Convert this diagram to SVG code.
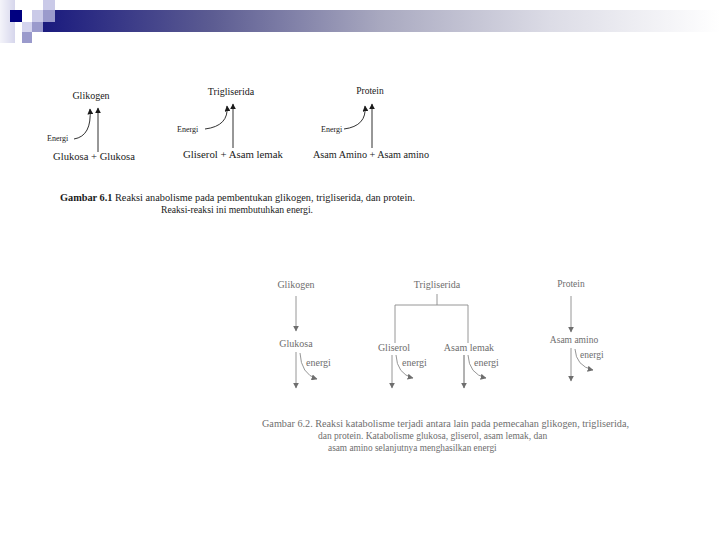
<svg xmlns="http://www.w3.org/2000/svg" width="720" height="540" viewBox="0 0 720 540">
<style>
.t1{font-family:"Liberation Serif","Times New Roman",serif;fill:#1a1a1a}
.t2{font-family:"Liberation Serif","Times New Roman",serif;fill:#6e6e6e}
.a1{fill:none;stroke:#1a1a1a;stroke-width:0.9}
.a2{fill:none;stroke:#8a8a8a;stroke-width:0.9}
</style>
<defs>
<linearGradient id="bar" x1="0" y1="0" x2="1" y2="0">
<stop offset="0" stop-color="#1a1a7e"/>
<stop offset="0.25" stop-color="#5c5c92"/>
<stop offset="0.5" stop-color="#a9a9c0"/>
<stop offset="0.75" stop-color="#dcdce6"/>
<stop offset="1" stop-color="#ffffff"/>
</linearGradient>
<linearGradient id="lsq" x1="0" y1="0" x2="1" y2="0">
<stop offset="0" stop-color="#f4f4fa"/>
<stop offset="1" stop-color="#d6d6ec"/>
</linearGradient>
<marker id="ah1" viewBox="0 0 10 10" refX="9" refY="5" markerWidth="6" markerHeight="6" markerUnits="userSpaceOnUse" orient="auto">
<path d="M0,0 L10,5 L0,10 Z" fill="#1a1a1a"/>
</marker>
<marker id="ah2" viewBox="0 0 10 10" refX="9" refY="5" markerWidth="6" markerHeight="6" markerUnits="userSpaceOnUse" orient="auto">
<path d="M0,0 L10,5 L0,10 Z" fill="#6e6e6e"/>
</marker>
</defs>
<rect width="720" height="540" fill="#ffffff"/>
<g id="header">
<rect x="0" y="0" width="15" height="43" fill="url(#lsq)"/>
<rect x="43" y="10" width="677" height="22" fill="url(#bar)"/>
<rect x="10" y="10" width="12" height="12" fill="#000080"/>
<rect x="32" y="10" width="11" height="12" fill="#cacae8"/>
<rect x="43" y="0" width="12" height="10" fill="#cacae8"/>
<rect x="43" y="10" width="12" height="12" fill="#9a9acc"/>
<rect x="22" y="22" width="10" height="10" fill="#d4d4ee"/>
<rect x="32" y="22" width="11" height="10" fill="#9a9acc"/>
<rect x="22" y="32" width="10" height="11" fill="#9a9acc"/>
</g>
<g id="connectors">
<path class="a1" d="M98,152 L98,108" marker-end="url(#ah1)"/>
<path class="a1" d="M74,139 Q92,136 90,109" marker-end="url(#ah1)"/>
<path class="a1" d="M233,148 L233,104" marker-end="url(#ah1)"/>
<path class="a1" d="M205,129 Q229,126 227,106" marker-end="url(#ah1)"/>
<path class="a1" d="M372,148 L372,104" marker-end="url(#ah1)"/>
<path class="a1" d="M344,129 Q367,126 365,106" marker-end="url(#ah1)"/>
<path class="a2" d="M296,296 L296,331" marker-end="url(#ah2)"/>
<path class="a2" d="M296,352 L296,388" marker-end="url(#ah2)"/>
<path class="a2" d="M300,353 Q301,374 317,379" marker-end="url(#ah2)"/>
<path class="a2" d="M437,294 L437,305 M395,305 L468,305 M395,305 L395,343 M468,305 L468,343"/>
<path class="a2" d="M392,355 L392,388" marker-end="url(#ah2)"/>
<path class="a2" d="M396,355 Q397,374 413,378" marker-end="url(#ah2)"/>
<path class="a2" d="M464,355 L464,388" marker-end="url(#ah2)" style="stroke:#555"/>
<path class="a2" d="M468,355 Q469,374 486,378" marker-end="url(#ah2)"/>
<path class="a2" d="M571,296 L571,332" marker-end="url(#ah2)"/>
<path class="a2" d="M571,348 L571,381" marker-end="url(#ah2)"/>
<path class="a2" d="M575,349 Q576,366 593,370" marker-end="url(#ah2)"/>
</g>
<g id="n-glikogen1"><text class="t1" x="91" y="99" font-size="10" text-anchor="middle">Glikogen</text></g>
<g id="n-energi1"><text class="t1" x="47" y="141" font-size="8">Energi</text></g>
<g id="n-glukosa1"><text class="t1" x="94" y="160" font-size="10.6" text-anchor="middle">Glukosa + Glukosa</text></g>
<g id="n-trigliserida1"><text class="t1" x="231" y="95" font-size="10" text-anchor="middle">Trigliserida</text></g>
<g id="n-energi2"><text class="t1" x="177" y="132" font-size="8">Energi</text></g>
<g id="n-gliserol1"><text class="t1" x="233" y="158" font-size="10.8" text-anchor="middle">Gliserol + Asam lemak</text></g>
<g id="n-protein1"><text class="t1" x="370" y="94" font-size="9.5" text-anchor="middle">Protein</text></g>
<g id="n-energi3"><text class="t1" x="321" y="132" font-size="8">Energi</text></g>
<g id="n-asamamino1"><text class="t1" x="371" y="158" font-size="10.2" text-anchor="middle">Asam Amino + Asam amino</text></g>
<g id="caption1">
<text class="t1" x="60" y="201" font-size="9.7" textLength="355" lengthAdjust="spacingAndGlyphs"><tspan font-weight="bold">Gambar 6.1</tspan>  Reaksi anabolisme pada pembentukan glikogen, trigliserida, dan  protein.</text>
<text class="t1" x="237" y="213" font-size="9.7" text-anchor="middle">Reaksi-reaksi ini membutuhkan energi.</text>
</g>
<g id="n-glikogen2"><text class="t2" x="296" y="288" font-size="10" text-anchor="middle">Glikogen</text></g>
<g id="n-glukosa2"><text class="t2" x="296" y="347" font-size="10" text-anchor="middle">Glukosa</text></g>
<g id="n-energi4"><text class="t2" x="306" y="366" font-size="10">energi</text></g>
<g id="n-trigliserida2"><text class="t2" x="437" y="288" font-size="10" text-anchor="middle">Trigliserida</text></g>
<g id="n-gliserol2"><text class="t2" x="394" y="351" font-size="10" text-anchor="middle">Gliserol</text></g>
<g id="n-energi5"><text class="t2" x="402" y="366" font-size="10">energi</text></g>
<g id="n-asamlemak2"><text class="t2" x="469" y="351" font-size="10" text-anchor="middle">Asam lemak</text></g>
<g id="n-energi6"><text class="t2" x="474" y="366" font-size="10">energi</text></g>
<g id="n-protein2"><text class="t2" x="571" y="287" font-size="9.5" text-anchor="middle">Protein</text></g>
<g id="n-asamamino2"><text class="t2" x="574" y="343" font-size="9.5" text-anchor="middle">Asam amino</text></g>
<g id="n-energi7"><text class="t2" x="580" y="358" font-size="9.5">energi</text></g>
<g id="caption2">
<text class="t2" x="262" y="427" font-size="9.5" textLength="367" lengthAdjust="spacingAndGlyphs">Gambar 6.2. Reaksi katabolisme terjadi antara lain pada pemecahan glikogen, trigliserida,</text>
<text class="t2" x="318" y="439" font-size="9.5">dan protein. Katabolisme glukosa, gliserol, asam lemak, dan</text>
<text class="t2" x="328" y="451" font-size="9.3">asam amino selanjutnya menghasilkan energi</text>
</g>
</svg>
